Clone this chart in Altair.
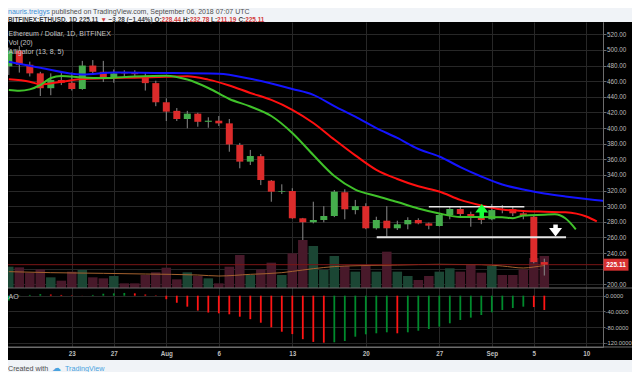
import altair as alt
import pandas as pd

FONT = "Liberation Sans"

# ---------------- data ----------------
START = pd.Timestamp("2018-07-17")


def day(offset):
    return (START + pd.Timedelta(days=offset)).strftime("%Y-%m-%dT%H:%M:%SZ")


def dt(offset):
    t = START + pd.Timedelta(days=offset)
    return alt.DateTime(year=t.year, month=t.month, date=t.day,
                        hours=t.hour, minutes=t.minute, utc=True)


dates = [day(i) for i in range(52)]

opens = [479, 499, 481, 470, 451, 461.5, 458, 450, 480, 472, 464, 471.5, 471, 466, 457.5, 433,
         422, 411.6, 418.4, 408, 409.4, 406, 378.3, 357, 364, 332.6, 318.5, 319.4, 284.5, 279.4,
         282.3, 287.4, 317.8, 295, 300, 271.7, 281.4, 271.7, 276.8, 282.3, 278, 274.6, 288.7,
         296.4, 290, 285.8, 283.2, 296.4, 296, 290.9, 286.5, 228.44]
highs = [503, 505, 485, 472, 470, 471, 471, 486, 487, 486, 475, 474, 474, 471, 460.6, 438,
         425.6, 422, 419.6, 413.8, 415.4, 411.6, 381, 372, 366.8, 333.5, 328, 323, 285, 305.7,
         300, 320.7, 321.6, 308, 303.7, 286.5, 300, 281.4, 285.8, 284.5, 279, 290.9, 299.3,
         299, 293, 290, 302.8, 301.5, 299, 292.5, 287.5, 232.78]
lows = [468, 471, 466, 441, 442, 455, 448, 449, 470, 459, 458, 465, 464, 448, 428, 409,
        409, 399.7, 401.7, 400.4, 402.6, 369.7, 348.5, 352.7, 327, 305.7, 315.6, 284, 256.7, 278,
        279.4, 286, 283.2, 289.6, 270.5, 270, 261, 269.5, 270.4, 276.8, 270.4, 274, 283.2,
        285.8, 273.7, 277, 282, 290.9, 287.4, 283.2, 226.9, 211.19]
closes = [499, 481, 470, 451, 461.5, 458, 450, 480, 472, 464, 470, 470, 469, 457.5, 433, 421,
          411.6, 418.4, 408, 409.4, 406, 379, 357, 364.2, 333.5, 318.5, 319.4, 284.5, 279.4, 282.3,
          287.4, 318.5, 296, 300, 271.7, 282.3, 271.7, 276.8, 282.3, 278, 275, 288.7, 296.4,
          290, 285.8, 282.3, 295, 295.6, 290.9, 287.4, 228.44, 225.11]
volume_k = [64, 62, 46, 56, 32, 22, 49, 54, 32, 29, 36, 14, 14, 39, 47, 61, 26, 47, 36, 29,
            14, 64, 99, 39, 56, 76, 39, 104, 144, 126, 54, 96, 66, 49, 66, 49, 109, 49, 36, 24,
            36, 49, 59, 49, 72, 46, 66, 39, 39, 56, 90, 96]

vol_ma_days = [0, 4, 9, 13, 18, 20, 23, 26, 28, 30, 32, 37, 41, 45, 47, 49, 50, 51]
vol_ma_k = [49, 46, 44, 42, 39, 36, 41, 46, 54, 61.5, 66, 69, 71, 70, 66, 60, 63, 67.5]

ao_values = [-12, 1, 2, 4, 3, 2, 1, 0.3, 2, 5, 6, 7, 6, 3, 1, -9, -18, -28, -38, -43,
             -45, -47.5, -53.6, -60, -69, -80.7, -92, -98, -111, -118, -120, -119, -115.7,
             -104.7, -98.6, -96, -93.5, -96, -93.5, -89.4, -85, -79, -70.5, -62, -56, -49.3,
             -42.4, -36.5, -31.4, -28, -29, -36.5]

jaw_days = [0, 3, 7, 10, 14, 20, 23, 25, 27, 29, 31, 33, 35, 37, 39, 41, 43, 45, 47, 49,
            51, 53, 55, 57, 59]
jaw_vals = [484.9, 477.2, 468.5, 471, 470.5, 469.5, 463, 457, 450, 442.5, 428.2, 414.5, 400,
            387.3, 373.2, 363.6, 350.1, 338, 327.7, 321.3, 316.2, 312.4, 309.2, 306.6, 304.7]
teeth_days = [0, 2, 3, 5, 7, 9, 12, 15, 17, 19, 21, 23, 25, 27, 29, 31, 33, 35, 37, 39, 41,
              43, 45, 47, 49, 51, 53, 55, 56]
teeth_vals = [462.4, 459.3, 456, 459.3, 462.8, 463.7, 464.5, 465.5, 466.3, 462, 454.5, 444.9,
              436, 423.4, 406.5, 385.3, 365, 346.5, 334.8, 325.4, 318.8, 308, 300.9, 295.7,
              293.8, 292.9, 292.2, 286.8, 280.4]
lips_days = [0, 1, 2, 3, 4, 5, 7, 9, 12, 15, 17, 19, 21, 23, 25, 27, 29, 31, 33, 35, 37, 39,
             41, 43, 45, 47, 48, 49, 51, 52, 53, 54]
lips_vals = [448.7, 447.8, 449.5, 455.1, 464, 466.6, 464.7, 464, 466, 467, 462.1, 451.3, 437.2,
             427.6, 415.4, 393.7, 365.5, 338.6, 321.3, 313, 305.3, 297, 290.6, 286.1, 286.1,
             285.8, 284.5, 288.1, 289.1, 289.6, 284.5, 270.4]

# annotations drawn on the chart (day offsets / prices)
resist_days = [40.0, 49.1]
resist_price = 299.3
support_days = [35.04, 53.07]
support_price = 260.2
up_arrow_day, up_head, up_shaft = 45.04, 294.5, [284.5, 293.2]
down_arrow_day, down_head, down_shaft = 52.07, 269.5, [270.5, 276.5]

tick_days = [6, 10, 15, 20, 27, 34, 41, 46, 50, 55]

header_segments = [  # (text, red?, space after)
    ("BITFINEX:ETHUSD, 1D", False, True),
    ("225.11", False, True),
    ("\u25bc", True, True),
    ("\u22123.28 (\u22121.44%)", False, True),
    ("O:", False, False), ("228.44", True, True),
    ("H:", False, False), ("232.78", True, True),
    ("L:", False, False), ("211.19", True, True),
    ("C:", False, False), ("225.11", True, False),
]

# ---------------- frames ----------------
candles = pd.DataFrame({"date": dates, "open": opens, "high": highs, "low": lows,
                        "close": closes, "volume": volume_k})
vma_df = pd.DataFrame({"date": [day(i) for i in vol_ma_days], "v": vol_ma_k})
ao_df = pd.DataFrame({"date": dates, "ao": ao_values})
ao_df["rising"] = ao_df["ao"].diff().fillna(1) >= 0
jaw_df = pd.DataFrame({"date": [day(i) for i in jaw_days], "v": jaw_vals})
teeth_df = pd.DataFrame({"date": [day(i) for i in teeth_days], "v": teeth_vals})
lips_df = pd.DataFrame({"date": [day(i) for i in lips_days], "v": lips_vals})
lines_df = pd.DataFrame({
    "d0": [day(resist_days[0]), day(support_days[0])],
    "d1": [day(resist_days[1]), day(support_days[1])],
    "p": [resist_price, support_price],
    "w": [1.6, 2.0],
})
up_df = pd.DataFrame({"date": [day(up_arrow_day)], "head": [up_head],
                      "s0": [up_shaft[0]], "s1": [up_shaft[1]]})
down_df = pd.DataFrame({"date": [day(down_arrow_day)], "head": [down_head],
                        "s0": [down_shaft[0]], "s1": [down_shaft[1]]})
one = pd.DataFrame({"k": [0]})

# ---------------- styles ----------------
GRID = "#272727"
AXC = "#6c6c6c"
LBL = "#bdbdbd"
LEG = "#c4c4c4"
UP = "#45ad4c"
DN = "#dc2b2b"
WICK = "#8a8a8a"
VUP = "#1b4634"
VDN = "#48192a"
JAW = "#1414ff"
TEETH = "#ff1010"
LIPS = "#40c22a"
VMA = "#a5622f"
AOG = "#008a2c"
AOR = "#ff1414"
PAGE = "#f0f3f7"
DARK = "#3a3a3a"
REDT = "#d23b3b"
BLUE = "#3d8fd6"

W, H = 595, 325

xscale = alt.Scale(type="utc", domain=[dt(-0.0762), dt(56.59)], padding=0)
x_axis = alt.Axis(
    values=[dt(i) for i in tick_days],
    labelExpr="utcdate(datum.value) == 1 ? utcFormat(datum.value, '%b') : utcFormat(datum.value, '%-d')",
    grid=True, gridColor=GRID, domain=True, domainColor=AXC, ticks=False,
    labelPadding=3.5, labelFontSize=6.3, labelColor=LBL, labelFont=FONT,
    labelFontWeight="bold", labelFlush=False, labelOverlap=False, title=None)

LAST = closes[-1]
price_scale = alt.Scale(domain=[119.74, 535.74], zero=False, nice=False, padding=0)
# the label hidden behind the last-price tag is left blank (its grid line stays)
price_axis = alt.Axis(orient="right", values=list(range(200, 521, 20)),
                      labelExpr=f"abs(datum.value - {LAST}) < 8 ? '' : format(datum.value, '.2f')",
                      grid=True, gridColor=GRID, domain=True, domainColor=AXC, ticks=True,
                      tickColor=AXC, tickSize=3, labelPadding=0.5, labelFontSize=6.3,
                      labelColor=LBL, labelFont=FONT, title=None, labelOverlap=False)
vol_scale = alt.Scale(domain=[-177, 798], zero=False, nice=False, padding=0)
ao_scale = alt.Scale(domain=[-131.0, 698.8], zero=False, nice=False, padding=0)
ao_axis = alt.Axis(orient="right", values=[0, -40, -80, -120],
                   labelExpr="replace(format(datum.value, '.4f'), '\u2212', '-')",
                   grid=True, gridColor=GRID, domain=True, domainColor=AXC, ticks=True,
                   tickColor=AXC, tickSize=2, labelPadding=0, labelFontSize=5.8,
                   labelColor=LBL, labelFont=FONT, title=None, labelOverlap=False)


# every layer carries the same axis definition so the merged axes stay enabled
def X(field="date"):
    return alt.X(f"{field}:T", scale=xscale, axis=x_axis)


def PY(field):
    return alt.Y(field, scale=price_scale, axis=price_axis)


def PDatum(v):
    return alt.YDatum(v, type="quantitative", scale=price_scale, axis=price_axis)


# ---------------- volume pane (overlay) ----------------
vol_bars = alt.Chart(candles).mark_bar(size=9.5).encode(
    x=X(), y=alt.Y("volume:Q", scale=vol_scale, axis=None), y2=alt.datum(0),
    color=alt.condition("datum.close >= datum.open", alt.value(VUP), alt.value(VDN)))
vol_ma = alt.Chart(vma_df).mark_line(color=VMA, strokeWidth=1, interpolate="monotone").encode(
    x=X(), y=alt.Y("v:Q", scale=vol_scale, axis=None))
vol_group = alt.layer(vol_bars, vol_ma)

# ---------------- price pane ----------------
last_line = alt.Chart(one).mark_rule(color="#7a1515", strokeWidth=1).encode(
    x=alt.value(0), x2=alt.value(W), y=PDatum(LAST))
wicks = alt.Chart(candles).mark_rule(color=WICK, strokeWidth=1).encode(
    x=X(), y=PY("low:Q"), y2="high:Q")
bodies = alt.Chart(candles).mark_bar(size=7).encode(
    x=X(), y=PY("open:Q"), y2="close:Q",
    color=alt.condition("datum.close >= datum.open", alt.value(UP), alt.value(DN)))


def gator(df, color):
    return alt.Chart(df).mark_line(color=color, strokeWidth=2, interpolate="monotone",
                                   clip=True).encode(x=X(), y=PY("v:Q"))


hlines = alt.Chart(lines_df).mark_rule(color="#e6e6e6").encode(
    x=X("d0"), x2="d1:T", y=PY("p:Q"), strokeWidth=alt.StrokeWidth("w:Q", scale=None))
up_shaft_m = alt.Chart(up_df).mark_rule(color="#19ff3a", strokeWidth=4.5).encode(
    x=X(), y=PY("s0:Q"), y2="s1:Q")
up_head_m = alt.Chart(up_df).mark_point(shape="M0,-1L1,0.3L-1,0.3Z", size=169, filled=True,
                                        color="#19ff3a", opacity=1).encode(
    x=X(), y=PY("head:Q"))
down_shaft_m = alt.Chart(down_df).mark_rule(color="#ffffff", strokeWidth=4.5).encode(
    x=X(), y=PY("s0:Q"), y2="s1:Q")
down_head_m = alt.Chart(down_df).mark_point(shape="M0,1L1,-0.3L-1,-0.3Z", size=169, filled=True,
                                            color="#ffffff", opacity=1).encode(
    x=X(), y=PY("head:Q"))
price_box = alt.Chart(one).mark_point(shape="M-1,-0.48L1,-0.48L1,0.48L-1,0.48Z", size=625,
                                      filled=True, color="#d83131", opacity=1).encode(
    x=alt.value(608), y=PDatum(LAST))
price_txt = alt.Chart(one).mark_text(text=f"{LAST:.2f}", font=FONT, fontSize=6.5,
                                     fontWeight="bold", color="#ffffff", align="center",
                                     baseline="middle").encode(
    x=alt.value(608), y=PDatum(LAST))

price_group = alt.layer(last_line, wicks, bodies, gator(jaw_df, JAW), gator(teeth_df, TEETH),
                        gator(lips_df, LIPS), hlines, up_shaft_m, up_head_m, down_shaft_m,
                        down_head_m, price_box, price_txt)

# ---------------- AO pane ----------------
ao_bars = alt.Chart(ao_df).mark_bar(size=1.8).encode(
    x=X(), y=alt.Y("ao:Q", scale=ao_scale, axis=ao_axis), y2=alt.datum(0),
    color=alt.condition("datum.rising", alt.value(AOG), alt.value(AOR)))
ao_group = alt.layer(ao_bars)


# ---------------- decorations / text ----------------
def txt(s, x, y, color, size=7.0, weight="normal", font=FONT):
    return alt.Chart(one).mark_text(text=s, align="left", baseline="alphabetic", font=font,
                                    fontSize=size, fontWeight=weight, color=color).encode(
        x=alt.value(x), y=alt.value(y))


def hrule(y, color, x0=0, x1=624, w=1):
    return alt.Chart(one).mark_rule(color=color, strokeWidth=w).encode(
        x=alt.value(x0), x2=alt.value(x1), y=alt.value(y))


def rect(x0, x1, y0, y1, color):
    return alt.Chart(one).mark_rect(color=color).encode(
        x=alt.value(x0), x2=alt.value(x1), y=alt.value(y0), y2=alt.value(y1))


# Arial/Liberation Bold advance widths (em) used to lay the header segments side by side
BOLD_W = {" ": .278, ".": .278, ",": .278, ":": .333, "(": .333, ")": .333, "%": .889,
          "\u2212": .584, "\u25bc": .99, "B": .722, "I": .278, "T": .611, "F": .611,
          "N": .722, "E": .667, "X": .667, "H": .722, "U": .722, "S": .667, "D": .722,
          "O": .778, "L": .611, "C": .722}


def bold_width(s, size):
    return sum(BOLD_W.get(c, .556) for c in s) * size


L1, L2 = -8.0, -0.3
HS = 6.4
decos = [
    rect(0, 624, -14, 0, PAGE),
    rect(0, 624, 338, 350, PAGE),
    hrule(266, AXC),
    hrule(325, AXC),
    txt("Ethereum / Dollar, 1D, BITFINEX", 0.5, 13.5, LEG),
    txt("Vol (20)", 0.5, 22.8, LEG),
    txt("Alligator (13, 8, 5)", 0.5, 32.2, LEG),
    txt("AO", 0.5, 277.3, LEG),
    txt("nauris.treigys", 0, L1, BLUE, 7.0),
    txt("published on TradingView.com, September 06, 2018 07:07 UTC", 43.6, L1, "#4d4d4d", 7.0),
    txt("Created with", 0, 348.8, "#4d4d4d", 7.2),
    txt("\u2601", 44, 349.3, "#4aa3df", 9, font="DejaVu Sans"),
    txt("TradingView", 57, 348.8, "#4aa3df", 7.2),
]
cx = 0.0
for s, red, sp in header_segments:
    decos.append(txt(s, round(cx, 1), L2, REDT if red else DARK, HS, "bold"))
    cx += bold_width(s, HS) + (bold_width(" ", HS) if sp else 0)

chart = alt.layer(vol_group, price_group, ao_group, *decos).resolve_scale(
    y="independent").properties(
    width=W, height=H,
    padding={"left": 0, "top": 14, "right": 29, "bottom": 25},
    autosize=alt.AutoSizeParams(type="none"),
).configure(background="#000000").configure_view(strokeWidth=0).configure_axis(
    labelFont=FONT)

chart.save("out.html", embed_options={"renderer": "svg", "actions": False})
